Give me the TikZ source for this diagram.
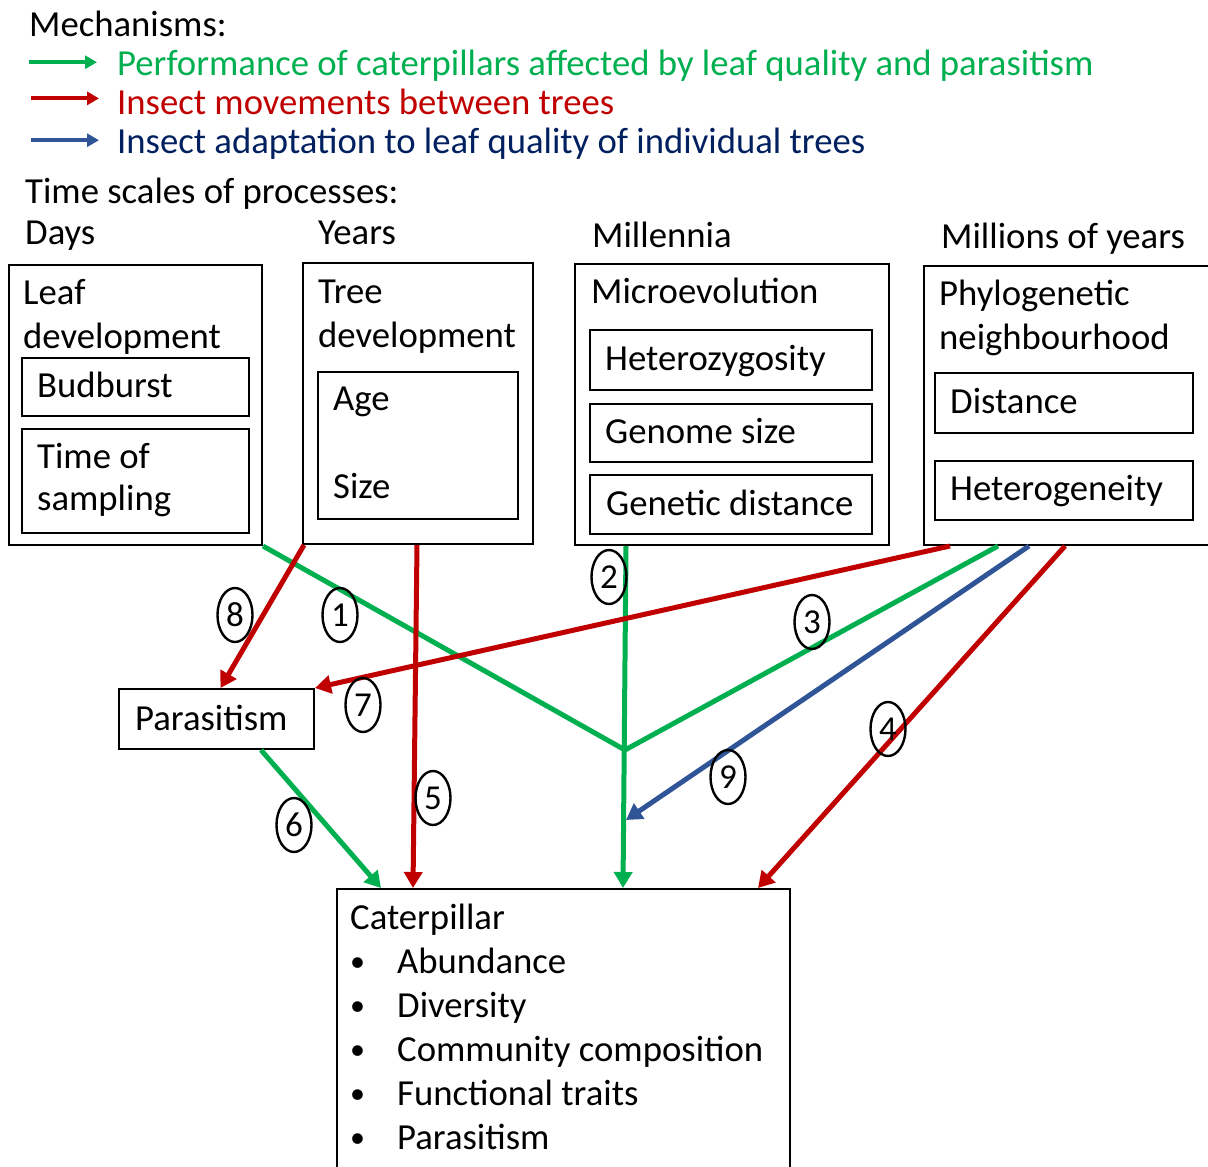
\documentclass[tikz,border=0pt]{standalone}
\usepackage{fontspec}
\setmainfont{Carlito}
\usetikzlibrary{arrows.meta}
\usetikzlibrary{shapes.geometric}
\usetikzlibrary{calc}

\definecolor{mgreen}{HTML}{00B050}
\definecolor{mred}{HTML}{C00000}
\definecolor{mblue}{HTML}{2F5597}
\definecolor{mnavy}{HTML}{002060}

\begin{document}
\begin{tikzpicture} [x=1pt, y=-1pt,
        every node/.style={font=\fontsize{36.7}{44}\selectfont},
        txt/.style={anchor=base west, inner sep=0pt},
        box/.style={draw, line width=2pt, anchor=north west, inner sep=0pt},
        num/.style={draw, ellipse, line width=2.4pt, minimum width=35pt, minimum height=54pt, inner sep=0pt, font=\fontsize{35}{40}\selectfont},
        link/.style={line width=5pt, -{Triangle[length=16pt,width=18pt]}},
        key/.style={line width=4.2pt, -{Triangle[length=12pt,width=13pt]}}]
            \useasboundingbox (0,0) rectangle (1208,1167);

            % legend
            \node[txt] (mech) at (29,36) {Mechanisms:};
            \node[txt, text=mgreen] (kperf) at (117,75) {Performance of caterpillars affected by leaf quality and parasitism};
            \node[txt, text=mred] (kmove) at (117,114) {Insect movements between trees};
            \node[txt, text=mnavy] (kadapt) at (117,153) {Insect adaptation to leaf quality of individual trees};
            \draw[key, mgreen] ($(kperf.west)+(-88,-3)$) -- ($(kperf.west)+(-20,-3)$);
            \draw[key, mred] ($(kmove.west)+(-86,-3)$) -- ($(kmove.west)+(-18,-3)$);
            \draw[key, mblue] ($(kadapt.west)+(-86,-3)$) -- ($(kadapt.west)+(-18,-3)$);

            % time scales
            \node[txt] (tscale) at (25,203) {Time scales of processes:};
            \node[txt] (days) at (25,244) {Days};
            \node[txt] (years) at (318,244) {Years};
            \node[txt] (millen) at (592,247) {Millennia};
            \node[txt] (myears) at (941,248) {Millions of years};

            % leaf development
            \node[box, minimum width=253pt, minimum height=280pt] (leaf) at (8,264) {};
            \node[txt] (leafa) at (23,304) {Leaf};
            \node[txt] (leafb) at (23,348) {development};
            \node[box, minimum width=227pt, minimum height=58pt] (bud) at (21,357) {};
            \node[txt] (budt) at (37,397) {Budburst};
            \node[box, minimum width=227pt, minimum height=104pt] (samp) at (21,428) {};
            \node[txt] (sampa) at (37,468) {Time of};
            \node[txt] (sampb) at (37,510) {sampling};

            % tree development
            \node[box, minimum width=230pt, minimum height=281pt] (tree) at (302,262) {};
            \node[txt] (treea) at (318,303) {Tree};
            \node[txt] (treeb) at (318,347) {development};
            \node[box, minimum width=200pt, minimum height=147pt] (agesize) at (317,371) {};
            \node[txt] (age) at (333,410) {Age};
            \node[txt] (size) at (333,498) {Size};

            % microevolution
            \node[box, minimum width=314pt, minimum height=281pt] (micro) at (574,263) {};
            \node[txt] (microt) at (591,303) {Microevolution};
            \node[box, minimum width=282pt, minimum height=60pt] (hetz) at (589,329) {};
            \node[txt] (hetzt) at (605,370) {Heterozygosity};
            \node[box, minimum width=282pt, minimum height=58pt] (genome) at (589,403) {};
            \node[txt] (genomet) at (605,443) {Genome size};
            \node[box, minimum width=282pt, minimum height=59pt] (gendist) at (589,474) {};
            \node[txt] (gendistt) at (606,515) {Genetic distance};

            % phylogenetic neighbourhood
            \node[box, minimum width=300pt, minimum height=279pt] (phylo) at (923,265) {};
            \node[txt] (phyloa) at (939,305) {Phylogenetic};
            \node[txt] (phylob) at (939,349) {neighbourhood};
            \node[box, minimum width=258pt, minimum height=60pt] (dist) at (934,372) {};
            \node[txt] (distt) at (950,413) {Distance};
            \node[box, minimum width=258pt, minimum height=59pt] (hetg) at (934,460) {};
            \node[txt] (hetgt) at (950,500) {Heterogeneity};

            % parasitism
            \node[box, minimum width=195pt, minimum height=60pt] (para) at (118,688) {};
            \node[txt] (parat) at (135,730) {Parasitism};

            % caterpillar
            \node[box, minimum width=453pt, minimum height=300pt] (cat) at (336,888) {};
            \node[txt] (catt) at (350,929) {Caterpillar};
            \node[txt, font=\fontsize{30}{44}\selectfont] (b1) at (350,971) {•};
            \node[txt, font=\fontsize{30}{44}\selectfont] (b2) at (350,1015) {•};
            \node[txt, font=\fontsize{30}{44}\selectfont] (b3) at (350,1059) {•};
            \node[txt, font=\fontsize{30}{44}\selectfont] (b4) at (350,1103) {•};
            \node[txt, font=\fontsize{30}{44}\selectfont] (b5) at (350,1147) {•};
            \node[txt] (abund) at (397,973) {Abundance};
            \node[txt] (divers) at (397,1017) {Diversity};
            \node[txt] (commun) at (397,1061) {Community composition};
            \node[txt] (funct) at (397,1105) {Functional traits};
            \node[txt] (parasit) at (397,1149) {Parasitism};

            % connectors
            \coordinate (jn) at (625,750);
            \coordinate (bend) at (626,820);
            \draw[line width=5pt, mgreen] (leaf.south east) -- (jn);
            \draw[line width=5pt, mgreen] ($(phylo.south west)+(75,0)$) -- (jn);
            \draw[link, mgreen] ($(micro.south west)+(52,0)$) -- ($(cat.north west)+(287,0)$);
            \draw[link, mred] ($(tree.south west)+(2,0)$) -- ($(para.north)+(4,0)$);
            \draw[link, mred] ($(tree.south west)+(115,0)$) -- ($(cat.north west)+(77,0)$);
            \draw[link, mred] ($(phylo.south west)+(27,0)$) -- (para.north east);
            \draw[link, mgreen] ($(para.south west)+(143,0)$) -- ($(cat.north west)+(45,0)$);
            \draw[link, mblue] ($(phylo.south west)+(106,0)$) -- (bend);
            \draw[link, mred] ($(phylo.south west)+(142,0)$) -- ($(cat.north west)+(422,0)$);

            % numbers
            \node[num] (n1) at (340,615) {1};
            \node[num] (n2) at (609,577) {2};
            \node[num] (n3) at (812,622) {3};
            \node[num] (n4) at (888,729) {4};
            \node[num] (n5) at (433,798) {5};
            \node[num] (n6) at (294,825) {6};
            \node[num] (n7) at (363,705) {7};
            \node[num] (n8) at (235,615) {8};
            \node[num] (n9) at (728,777) {9};
        \end{tikzpicture}
\end{document}
